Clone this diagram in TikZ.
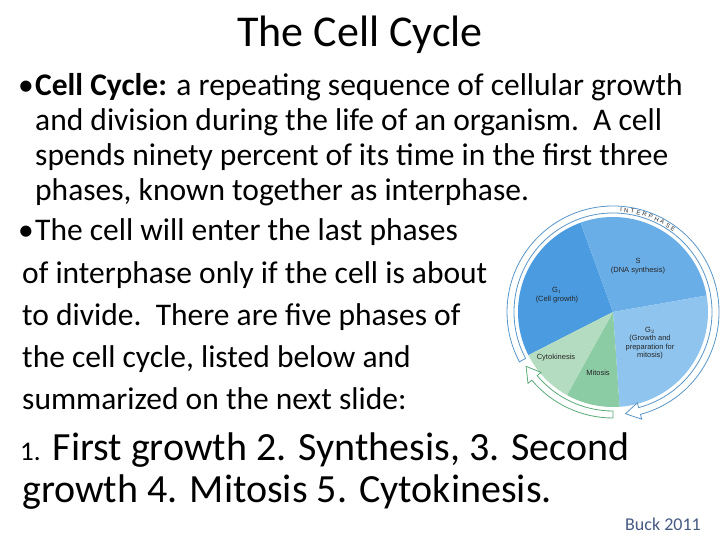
\documentclass[tikz,border=0pt]{standalone}
\usepackage{fontspec}
\setmainfont{Carlito}
\newfontfamily\arialf{Liberation Sans}
\usetikzlibrary{decorations.text}
\begin{document}
\begin{tikzpicture}[x=1pt,y=1pt,
  body/.style={anchor=base west,inner sep=0pt,font=\fontsize{31.5}{31.5}\selectfont},
  big/.style={anchor=base west,inner sep=0pt,font=\fontsize{40}{40}\selectfont},
  lab/.style={inner sep=0pt,align=center,font=\arialf\fontsize{7.5}{8.5}\selectfont,text=black!85},
  band/.style={fill=white,line width=0.8pt}]
\useasboundingbox (0,0) rectangle (720,540);
\fill[white] (0,0) rectangle (720,540);
\node[inner sep=0pt,font=\fontsize{44}{44}\selectfont] (title) at (360,505) {The Cell Cycle};
\node[body] (b1) at (18,444) {\textbullet};
\node[body] (l1) at (35,444) {\textbf{Cell Cycle:} a repeating sequence of cellular growth};
\node[body] (l2) at (35,409) {and division during the life of an organism.\ \ A cell};
\node[body] (l3) at (35,374) {spends ninety percent of its time in the first three};
\node[body] (l4) at (35,339) {phases, known together as interphase.};
\node[body] (b2) at (18,299) {\textbullet};
\node[body] (l5) at (35,299) {The cell will enter the last phases};
\node[body] (l6) at (22,256) {of interphase only if the cell is about};
\node[body] (l7) at (22,214) {to divide.\ \ There are five phases of};
\node[body] (l8) at (22,172) {the cell cycle, listed below and};
\node[body] (l9) at (22,130) {summarized on the next slide:};
\node[big] (l10) at (20,79) {{\fontsize{27}{27}\selectfont 1.} First growth 2. Synthesis, 3. Second};
\node[big] (l11) at (22,37) {growth 4. Mitosis 5. Cytokinesis.};
\node[inner sep=0pt,font=\fontsize{18}{18}\selectfont,text={rgb,255:red,70;green,90;blue,130}] (buck) at (663,16) {Buck 2011};
% pie
\begin{scope}[shift={(613,228)}]
\fill[fill={rgb,255:red,74;green,155;blue,224}] (0,0) -- (110:95) arc[start angle=110,end angle=207,radius=95] -- cycle;
\fill[fill={rgb,255:red,106;green,174;blue,232}] (0,0) -- (10:95) arc[start angle=10,end angle=110,radius=95] -- cycle;
\fill[fill={rgb,255:red,142;green,196;blue,238}] (0,0) -- (-86:95) arc[start angle=-86,end angle=10,radius=95] -- cycle;
\fill[fill={rgb,255:red,140;green,204;blue,164}] (0,0) -- (-119:95) arc[start angle=-119,end angle=-86,radius=95] -- cycle;
\fill[fill={rgb,255:red,180;green,220;blue,192}] (0,0) -- (-153:95) arc[start angle=-153,end angle=-119,radius=95] -- cycle;
\draw[band,draw={rgb,255:red,90;green,150;blue,200}] (208:99) arc[start angle=208,end angle=-75,radius=99] -- (-75:94) -- (-83:102.5) -- (-75:111) -- (-75:106) arc[start angle=-75,end angle=208,radius=106] -- cycle;
\draw[band,draw={rgb,255:red,90;green,170;blue,120}] (-90:99) arc[start angle=-90,end angle=-140,radius=99] -- (-140:94) -- (-148:102.5) -- (-140:111) -- (-140:106) arc[start angle=-140,end angle=-90,radius=106] -- cycle;
\path[decorate,decoration={text along path,text={|\arialf\fontsize{6}{6}\selectfont|INTERPHASE},text align=fit to path,
  text color=black!85}] (86:100.5) arc[start angle=86,end angle=53,radius=100.5];
\end{scope}
\node[lab] (s) at (638,274) {S\\(DNA synthesis)};
\node[lab] (g1) at (557,245) {G$_1$\\(Cell growth)};
\node[lab] (g2) at (650,197) {G$_2$\\(Growth and\\preparation for\\mitosis)};
\node[lab] (cyt) at (556,182) {Cytokinesis};
\node[lab] (mit) at (598,167) {Mitosis};
\end{tikzpicture}
\end{document}
